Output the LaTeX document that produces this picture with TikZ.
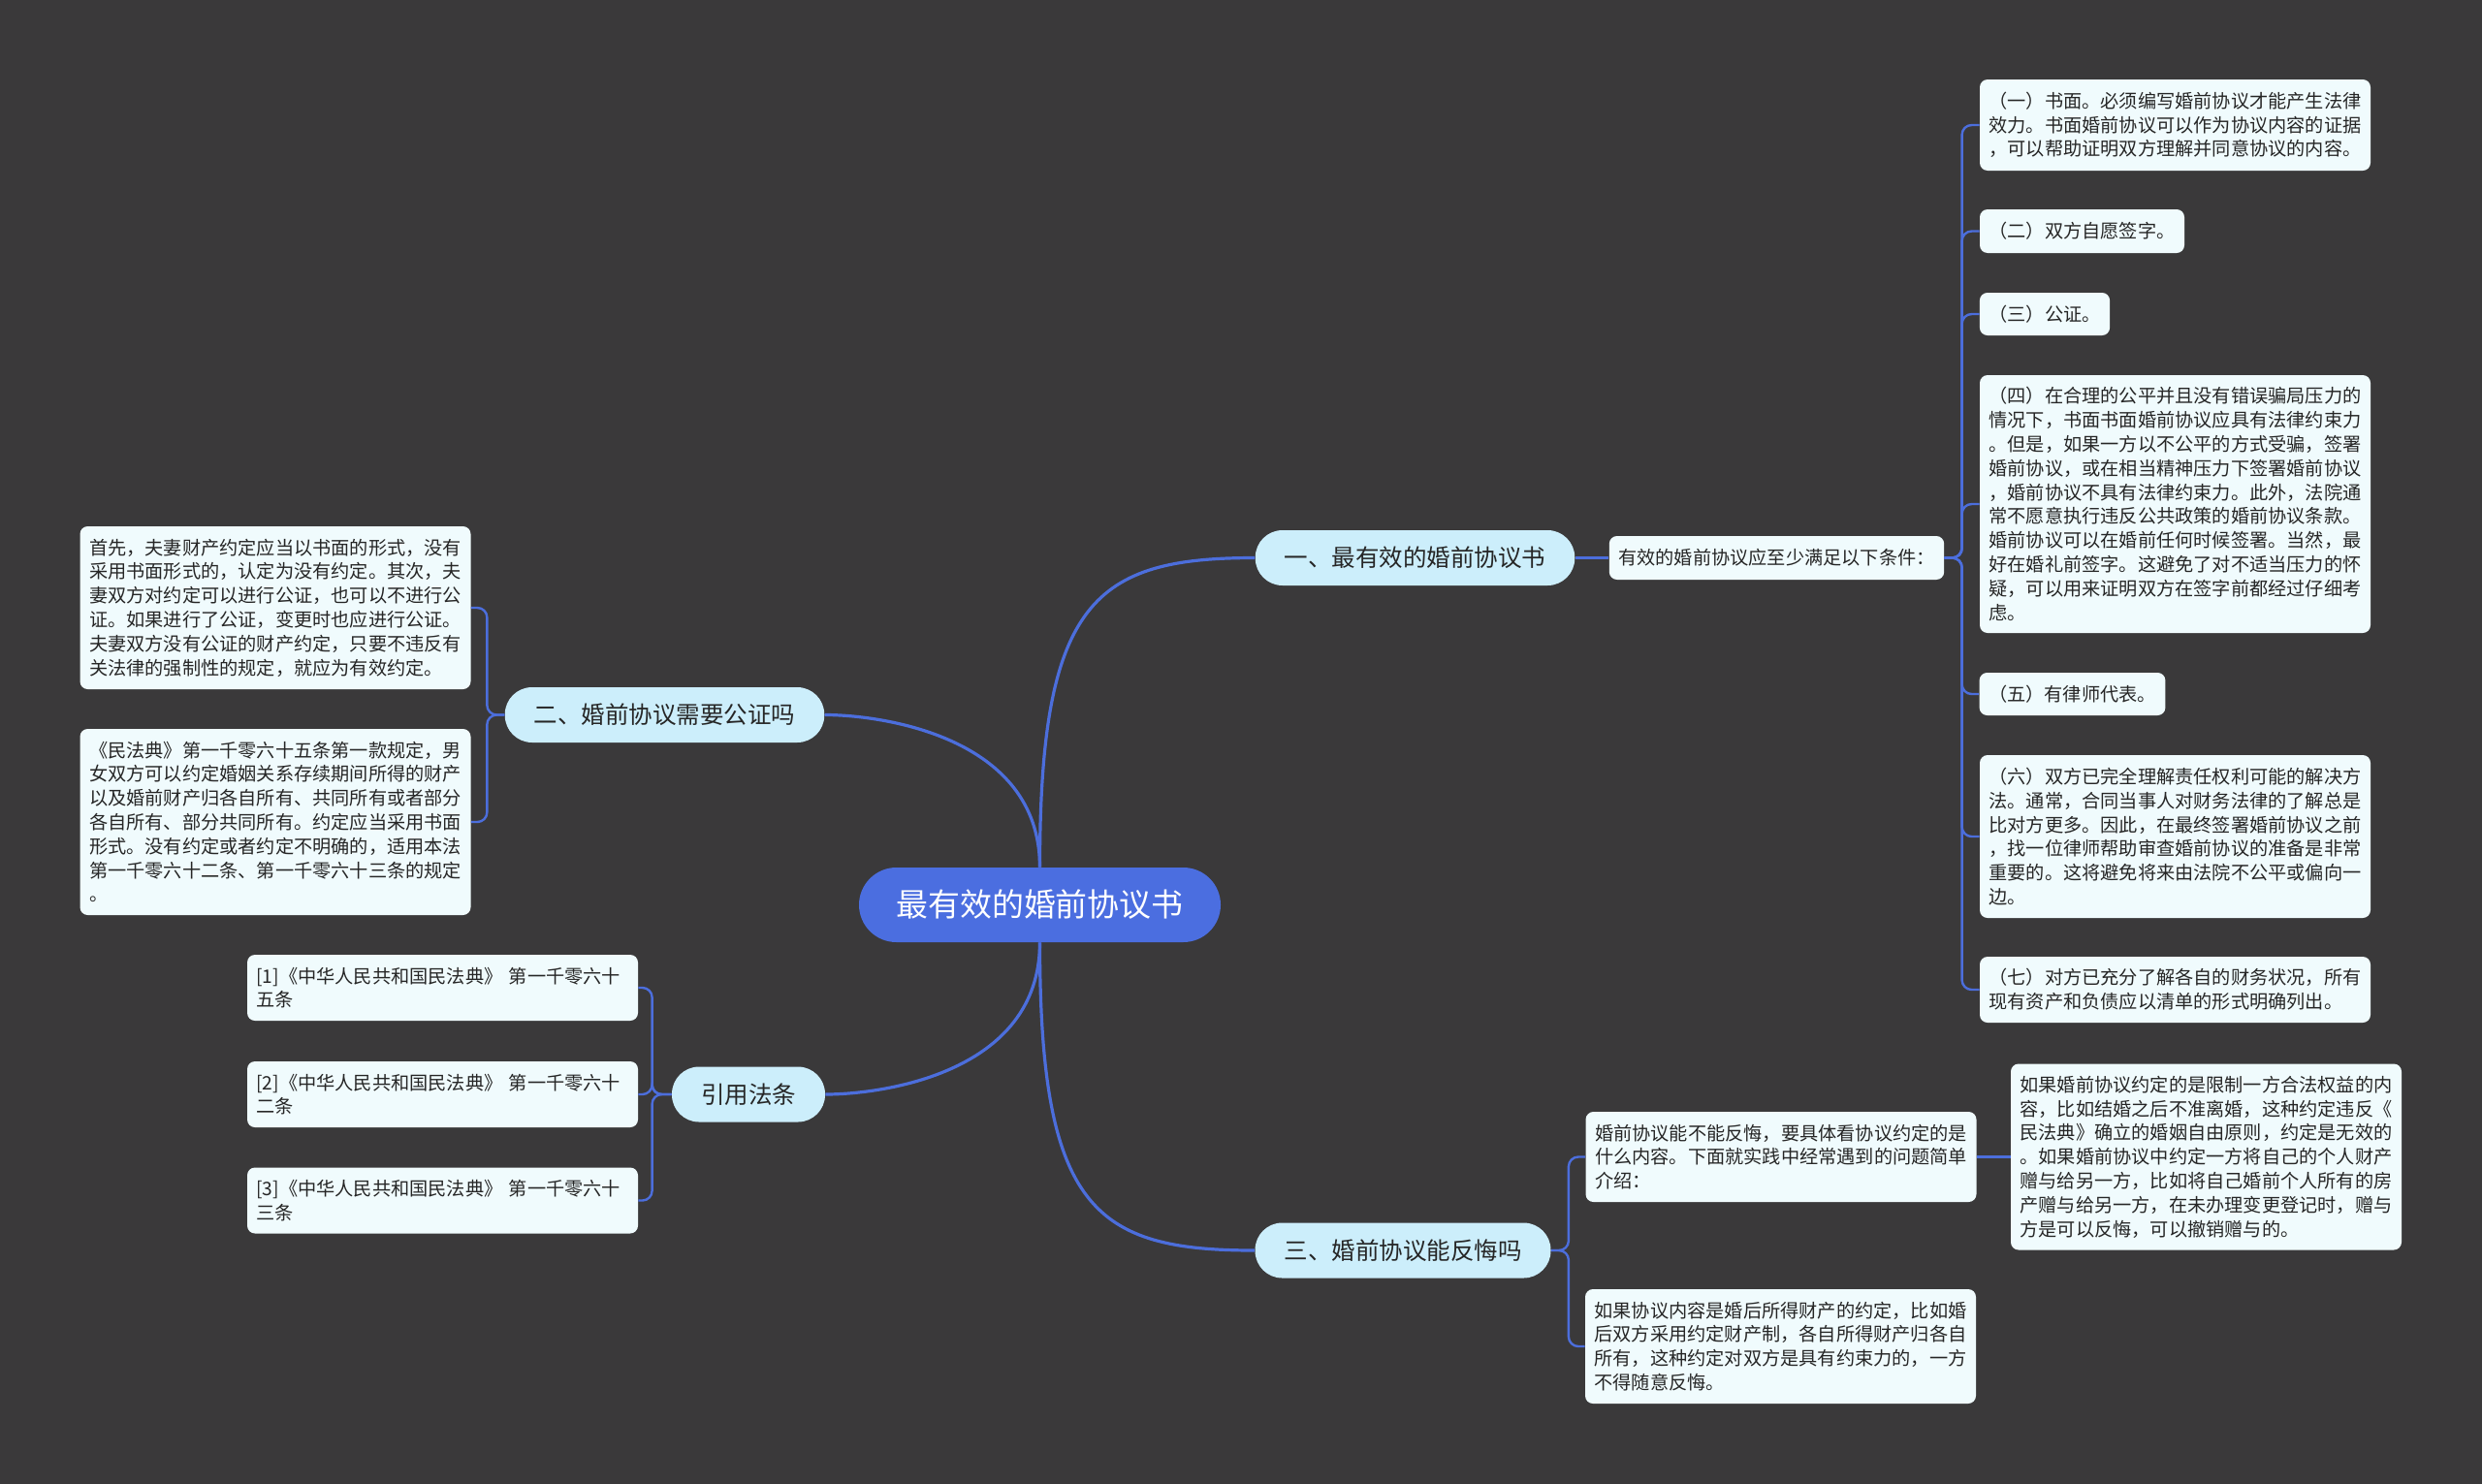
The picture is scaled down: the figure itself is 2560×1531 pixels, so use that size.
\documentclass[tikz,border=0pt]{standalone}
\usepackage{fontspec}
\setmainfont{Noto Sans CJK SC}
\definecolor{bg}{HTML}{3A393A}
\definecolor{linec}{HTML}{4C6EDC}
\definecolor{rootc}{HTML}{4B6EE0}
\definecolor{branchc}{HTML}{CCEEFB}
\definecolor{leafc}{HTML}{F0FBFD}
\definecolor{txt}{HTML}{262626}
\begin{document}
\begin{tikzpicture}[x=0.5pt,y=-0.5pt,
  rootnode/.style={fill=rootc, text=white, rounded corners=19.25pt, minimum width=186.5pt, minimum height=38.5pt, inner sep=0pt, font=\fontsize{16.45}{20}\selectfont},
  branch/.style={fill=branchc, text=txt, rounded corners=14pt, minimum height=28.5pt, inner xsep=15pt, inner ysep=0pt, font=\fontsize{12.25}{15}\selectfont},
  leaf/.style={fill=leafc, text=txt, rounded corners=4pt, inner xsep=4.75pt, inner ysep=0pt, font=\fontsize{9.6}{12.4}\selectfont, align=left},
  wide/.style={leaf, text width=192pt},
  conn/.style={draw=linec, line width=1.6pt},
  brk/.style={draw=linec, line width=1.2pt, rounded corners=5pt}]
\fill[bg] (0,0) rectangle (2560,1531);
\useasboundingbox (0,0) rectangle (2560,1531);

% root and branches
\node[rootnode] (root) at (1072.5,933.5) {最有效的婚前协议书};
\node[branch] (B1) at (1459.5,575.5) {一、最有效的婚前协议书};
\node[branch] (B2) at (685.5,737.5) {二、婚前协议需要公证吗};
\node[branch] (B3) at (772,1129) {引用法条};
\node[branch] (B4) at (1447,1290) {三、婚前协议能反悔吗};

% branch 1
\node[leaf, minimum height=22.5pt] (C1) at (1832.5,575.5) {有效的婚前协议应至少满足以下条件：};
\node[wide, minimum height=47pt] (L1) at (2243.5,129) {（一）书面。必须编写婚前协议才能产生法律\\效力。书面婚前协议可以作为协议内容的证据\\，可以帮助证明双方理解并同意协议的内容。};
\node[leaf, minimum height=22.5pt] (L2) at (2147.5,238.5) {（二）双方自愿签字。};
\node[leaf, minimum height=22pt] (L3) at (2109,324) {（三）公证。};
\node[wide, minimum height=133pt] (L4) at (2243.5,520) {（四）在合理的公平并且没有错误骗局压力的\\情况下，书面书面婚前协议应具有法律约束力\\。但是，如果一方以不公平的方式受骗，签署\\婚前协议，或在相当精神压力下签署婚前协议\\，婚前协议不具有法律约束力。此外，法院通\\常不愿意执行违反公共政策的婚前协议条款。\\婚前协议可以在婚前任何时候签署。当然，最\\好在婚礼前签字。这避免了对不适当压力的怀\\疑，可以用来证明双方在签字前都经过仔细考\\虑。};
\node[leaf, minimum height=22pt] (L5) at (2137.5,716) {（五）有律师代表。};
\node[wide, minimum height=84pt] (L6) at (2243.5,863) {（六）双方已完全理解责任权利可能的解决方\\法。通常，合同当事人对财务法律的了解总是\\比对方更多。因此，在最终签署婚前协议之前\\，找一位律师帮助审查婚前协议的准备是非常\\重要的。这将避免将来由法院不公平或偏向一\\边。};
\node[wide, minimum height=34pt] (L7) at (2243.5,1021) {（七）对方已充分了解各自的财务状况，所有\\现有资产和负债应以清单的形式明确列出。};

% branch 2
\node[wide, minimum height=84pt] (LL1) at (284,627) {首先，夫妻财产约定应当以书面的形式，没有\\采用书面形式的，认定为没有约定。其次，夫\\妻双方对约定可以进行公证，也可以不进行公\\证。如果进行了公证，变更时也应进行公证。\\夫妻双方没有公证的财产约定，只要不违反有\\关法律的强制性的规定，就应为有效约定。};
\node[wide, minimum height=96pt] (LL2) at (284,848) {《民法典》第一千零六十五条第一款规定，男\\女双方可以约定婚姻关系存续期间所得的财产\\以及婚前财产归各自所有、共同所有或者部分\\各自所有、部分共同所有。约定应当采用书面\\形式。没有约定或者约定不明确的，适用本法\\第一千零六十二条、第一千零六十三条的规定\\。};

% branch 3
\node[wide, minimum height=34pt] (R1) at (456.5,1019) {[1]《中华人民共和国民法典》 第一千零六十\\五条};
\node[wide, minimum height=34pt] (R2) at (456.5,1129) {[2]《中华人民共和国民法典》 第一千零六十\\二条};
\node[wide, minimum height=34pt] (R3) at (456.5,1238.5) {[3]《中华人民共和国民法典》 第一千零六十\\三条};

% branch 4
\node[wide, minimum height=46.5pt] (D1) at (1837,1193.5) {婚前协议能不能反悔，要具体看协议约定的是\\什么内容。下面就实践中经常遇到的问题简单\\介绍：};
\node[wide, minimum height=96pt] (D1a) at (2275.5,1193.5) {如果婚前协议约定的是限制一方合法权益的内\\容，比如结婚之后不准离婚，这种约定违反《\\民法典》确立的婚姻自由原则，约定是无效的\\。如果婚前协议中约定一方将自己的个人财产\\赠与给另一方，比如将自己婚前个人所有的房\\产赠与给另一方，在未办理变更登记时，赠与\\方是可以反悔，可以撤销赠与的。};
\node[wide, minimum height=59pt] (D2) at (1836.5,1389) {如果协议内容是婚后所得财产的约定，比如婚\\后双方采用约定财产制，各自所得财产归各自\\所有，这种约定对双方是具有约束力的，一方\\不得随意反悔。};

% main connectors
\draw[conn] (root.north) .. controls +(0,-275) and +(-165,0) .. (B1.west);
\draw[conn] (root.north) .. controls +(0,-135) and +(58,0) .. (B2.east);
\draw[conn] (root.south) .. controls +(0,135) and +(58,0) .. (B3.east);
\draw[conn] (root.south) .. controls +(0,275) and +(-165,0) .. (B4.west);

% sub connectors
\draw[conn] (B1.east) -- (C1.west);
\foreach \n in {L1,L2,L3,L4,L5,L6,L7} \draw[brk] (C1.east) -- ++(18,0) |- (\n.west);
\foreach \n in {LL1,LL2} \draw[brk] (B2.west) -- ++(-18,0) |- (\n.east);
\foreach \n in {R1,R2,R3} \draw[brk] (B3.west) -- ++(-20,0) |- (\n.east);
\foreach \n in {D1,D2} \draw[brk] (B4.east) -- ++(18,0) |- (\n.west);
\draw[brk] (D1.east) -- (D1a.west);
\end{tikzpicture}
\end{document}
